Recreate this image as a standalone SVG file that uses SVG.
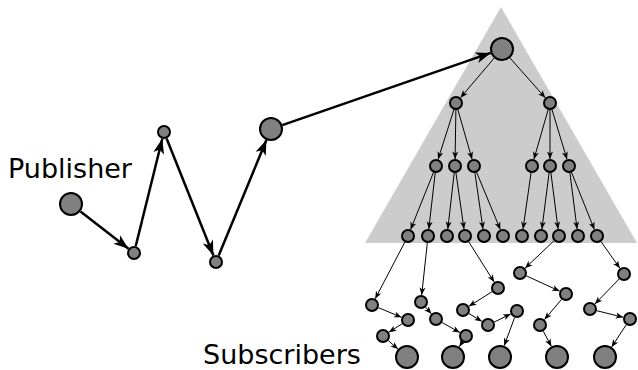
<svg xmlns="http://www.w3.org/2000/svg" width="638" height="370" viewBox="0 0 638 370">
<style>
.n{fill:#808080;stroke:#000;stroke-width:2}
.t{stroke:#000;stroke-width:1;fill:none;marker-end:url(#sa)}
.m{stroke:#000;stroke-width:2.5;fill:none;marker-end:url(#ba)}
.lbl{font-family:"DejaVu Sans",sans-serif;font-size:27px;fill:#000}
</style>
<defs>
<marker id="ba" markerUnits="userSpaceOnUse" viewBox="-16 -7 17 14" refX="0" refY="0" markerWidth="17" markerHeight="14" orient="auto"><path d="M0,0 L-15,-5.5 L-11,0 L-15,5.5 z" fill="#000"/></marker>
<marker id="sa" markerUnits="userSpaceOnUse" viewBox="-9 -4 10 8" refX="0" refY="0" markerWidth="10" markerHeight="8" orient="auto"><path d="M0,0 L-7.5,-3 L-5.5,0 L-7.5,3 z" fill="#000"/></marker>
</defs>
<polygon id="tree-area" points="501,7 365,243 637,243" fill="#cccccc"/>
<g id="connectors">
<line class="m" x1="80.5" y1="211.4" x2="128.5" y2="248.7"/>
<line class="m" x1="135.7" y1="246.2" x2="162.3" y2="138.8"/>
<line class="m" x1="166.6" y1="138.5" x2="213.4" y2="255.5"/>
<line class="m" x1="218.7" y1="255.5" x2="266.4" y2="140.1"/>
<line class="m" x1="282.3" y1="125.1" x2="490.7" y2="52.9"/>
<line class="t" x1="494.2" y1="58.1" x2="460.5" y2="97.7"/>
<line class="t" x1="510" y1="58" x2="545.3" y2="97.8"/>
<line class="t" x1="454.2" y1="108.7" x2="438.1" y2="159.3"/>
<line class="t" x1="455.9" y1="109" x2="455.1" y2="159"/>
<line class="t" x1="457.6" y1="108.8" x2="472.1" y2="159.3"/>
<line class="t" x1="548.4" y1="108.8" x2="533.9" y2="159.3"/>
<line class="t" x1="550" y1="109" x2="550" y2="159"/>
<line class="t" x1="551.7" y1="108.7" x2="567" y2="159.3"/>
<line class="t" x1="433.8" y1="171.6" x2="410.6" y2="229.5"/>
<line class="t" x1="435.3" y1="172" x2="428.8" y2="229"/>
<line class="t" x1="454.3" y1="172" x2="447.8" y2="229"/>
<line class="t" x1="455.8" y1="171.9" x2="464" y2="229.1"/>
<line class="t" x1="474.8" y1="171.9" x2="483" y2="229.1"/>
<line class="t" x1="476.3" y1="171.5" x2="500.3" y2="229.5"/>
<line class="t" x1="531.2" y1="171.9" x2="523" y2="229.1"/>
<line class="t" x1="549.2" y1="172" x2="541.9" y2="229.1"/>
<line class="t" x1="550.8" y1="172" x2="558.1" y2="229.1"/>
<line class="t" x1="569.8" y1="172" x2="577.1" y2="229.1"/>
<line class="t" x1="571.2" y1="171.6" x2="594.4" y2="229.5"/>
<line class="t" x1="404.8" y1="242.2" x2="375.2" y2="298.8"/>
<line class="t" x1="378.5" y1="307.7" x2="401.5" y2="317.3"/>
<line class="t" x1="402.1" y1="323.8" x2="388.9" y2="332.2"/>
<line class="t" x1="388.3" y1="340.6" x2="398" y2="349.1"/>
<line class="t" x1="427.3" y1="243" x2="421.7" y2="295"/>
<line class="t" x1="425.6" y1="307.2" x2="431.4" y2="313.8"/>
<line class="t" x1="442.1" y1="322.5" x2="459.9" y2="332.5"/>
<line class="t" x1="462.3" y1="342" x2="459.3" y2="346.8"/>
<line class="t" x1="468.8" y1="241.9" x2="494.2" y2="282.1"/>
<line class="t" x1="492.1" y1="291.7" x2="468.9" y2="306.3"/>
<line class="t" x1="469" y1="313.6" x2="482" y2="321.4"/>
<line class="t" x1="494.3" y1="322" x2="510.7" y2="314"/>
<line class="t" x1="514.6" y1="317.6" x2="504.2" y2="345.7"/>
<line class="t" x1="553.9" y1="240.8" x2="525.1" y2="268.2"/>
<line class="t" x1="526.4" y1="275.9" x2="559.6" y2="291.1"/>
<line class="t" x1="561.5" y1="299.4" x2="544.5" y2="319.6"/>
<line class="t" x1="543.3" y1="331.2" x2="551.4" y2="346.4"/>
<line class="t" x1="601.1" y1="241.7" x2="619.9" y2="268.3"/>
<line class="t" x1="619.1" y1="279" x2="594.9" y2="304"/>
<line class="t" x1="596.8" y1="310.7" x2="623.2" y2="317.3"/>
<line class="t" x1="626.2" y1="324.8" x2="611.6" y2="347"/>
</g>
<g id="publisher"><circle class="n" cx="71" cy="204" r="11"/></g>
<g id="hop1"><circle class="n" cx="134" cy="253" r="6"/></g>
<g id="hop2"><circle class="n" cx="164" cy="132" r="6"/></g>
<g id="hop3"><circle class="n" cx="216" cy="262" r="6"/></g>
<g id="hop4"><circle class="n" cx="271" cy="129" r="11"/></g>
<g id="root"><circle class="n" cx="502" cy="49" r="11"/></g>
<g id="l1a"><circle class="n" cx="456" cy="103" r="6"/></g>
<g id="l1b"><circle class="n" cx="550" cy="103" r="6"/></g>
<g id="l2a"><circle class="n" cx="436" cy="166" r="6"/></g>
<g id="l2b"><circle class="n" cx="455" cy="166" r="6"/></g>
<g id="l2c"><circle class="n" cx="474" cy="166" r="6"/></g>
<g id="l2d"><circle class="n" cx="532" cy="166" r="6"/></g>
<g id="l2e"><circle class="n" cx="550" cy="166" r="6"/></g>
<g id="l2f"><circle class="n" cx="569" cy="166" r="6"/></g>
<g id="l3-1"><circle class="n" cx="408" cy="236" r="6"/></g>
<g id="l3-2"><circle class="n" cx="428" cy="236" r="6"/></g>
<g id="l3-3"><circle class="n" cx="447" cy="236" r="6"/></g>
<g id="l3-4"><circle class="n" cx="465" cy="236" r="6"/></g>
<g id="l3-5"><circle class="n" cx="484" cy="236" r="6"/></g>
<g id="l3-6"><circle class="n" cx="503" cy="236" r="6"/></g>
<g id="l3-7"><circle class="n" cx="522" cy="236" r="6"/></g>
<g id="l3-8"><circle class="n" cx="541" cy="236" r="6"/></g>
<g id="l3-9"><circle class="n" cx="559" cy="236" r="6"/></g>
<g id="l3-10"><circle class="n" cx="578" cy="236" r="6"/></g>
<g id="l3-11"><circle class="n" cx="597" cy="236" r="6"/></g>
<g id="a"><circle class="n" cx="372" cy="305" r="6"/></g>
<g id="b"><circle class="n" cx="408" cy="320" r="6"/></g>
<g id="c"><circle class="n" cx="383" cy="336" r="6"/></g>
<g id="d"><circle class="n" cx="421" cy="302" r="6"/></g>
<g id="e"><circle class="n" cx="436" cy="319" r="6"/></g>
<g id="f"><circle class="n" cx="466" cy="336" r="6"/></g>
<g id="g"><circle class="n" cx="498" cy="288" r="6"/></g>
<g id="h"><circle class="n" cx="463" cy="310" r="6"/></g>
<g id="i"><circle class="n" cx="488" cy="325" r="6"/></g>
<g id="j"><circle class="n" cx="517" cy="311" r="6"/></g>
<g id="k"><circle class="n" cx="520" cy="273" r="6"/></g>
<g id="l"><circle class="n" cx="566" cy="294" r="6"/></g>
<g id="m"><circle class="n" cx="540" cy="325" r="6"/></g>
<g id="n"><circle class="n" cx="624" cy="274" r="6"/></g>
<g id="o"><circle class="n" cx="590" cy="309" r="6"/></g>
<g id="p"><circle class="n" cx="630" cy="319" r="6"/></g>
<g id="sub1"><circle class="n" cx="407" cy="357" r="11"/></g>
<g id="sub2"><circle class="n" cx="453" cy="357" r="11"/></g>
<g id="sub3"><circle class="n" cx="500" cy="357" r="11"/></g>
<g id="sub4"><circle class="n" cx="557" cy="357" r="11"/></g>
<g id="sub5"><circle class="n" cx="605" cy="357" r="11"/></g>
<g id="labels">
<text class="lbl" x="8" y="178">Publisher</text>
<text class="lbl" x="203" y="364">Subscribers</text>
</g>
</svg>
